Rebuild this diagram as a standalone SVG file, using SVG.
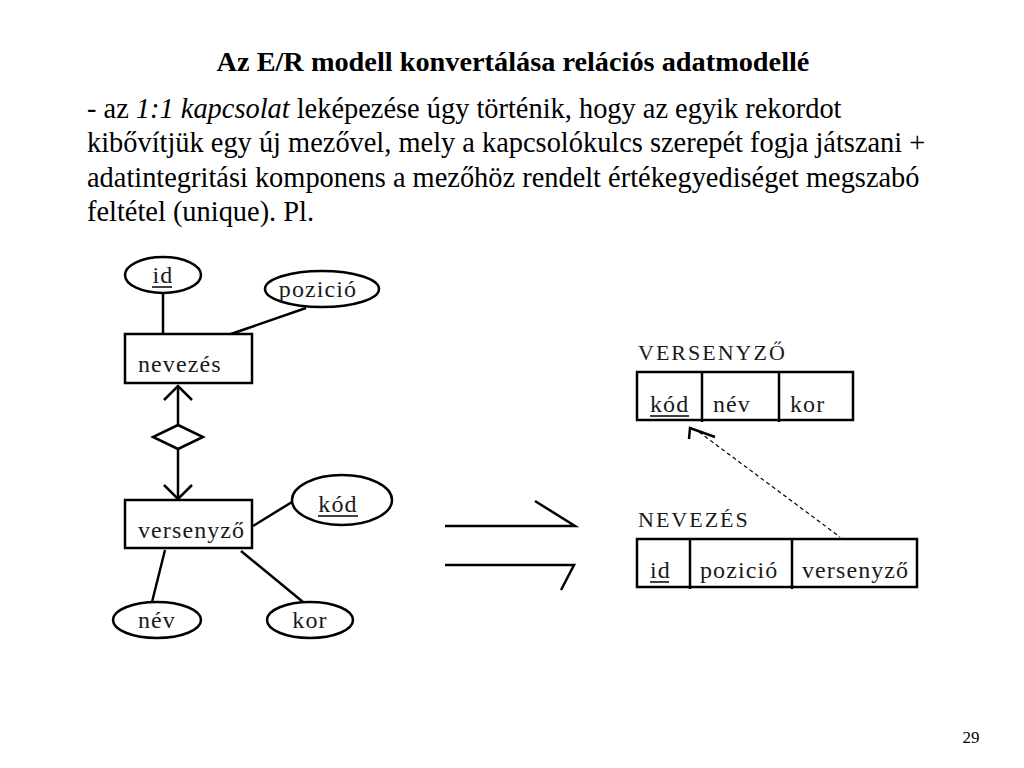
<svg xmlns="http://www.w3.org/2000/svg" width="1024" height="768" viewBox="0 0 1024 768">
<style>
.t{font-size:28.3px;font-weight:bold}
.p{font-size:28.4px}
.d{font-size:24px;letter-spacing:1.1px;fill:#1a1a1a}
.h{font-size:22px;letter-spacing:2px;fill:#1a1a1a}
.s{fill:#fff;stroke:#000;stroke-width:2.5}
.l{fill:none;stroke:#000;stroke-width:2.5}
.u{stroke:#000;stroke-width:1.5}
</style>
<rect width="1024" height="768" fill="#fff"/>
<g font-family="Liberation Serif" fill="#000">
<text class="t" x="513" y="71" text-anchor="middle">Az E/R modell konvertálása relációs adatmodellé</text>
<text class="p" x="87" y="118">- az <tspan font-style="italic">1:1 kapcsolat</tspan> leképezése úgy történik, hogy az egyik rekordot</text>
<text class="p" x="87" y="152">kibővítjük egy új mezővel, mely a kapcsolókulcs szerepét fogja játszani +</text>
<text class="p" x="87" y="187">adatintegritási komponens a mezőhöz rendelt értékegyediséget megszabó</text>
<text class="p" x="87" y="221">feltétel (unique). Pl.</text>
</g>

<g id="connectors">
<line class="l" x1="163" y1="293" x2="163" y2="334"/>
<line class="l" x1="306" y1="308" x2="228" y2="335"/>
<line class="l" x1="178" y1="386" x2="178" y2="425"/>
<polyline class="l" points="164,400 178,386 192,400"/>
<line class="l" x1="178" y1="449" x2="178" y2="499"/>
<polyline class="l" points="164,485 178,499 192,485"/>
<line class="l" x1="253" y1="526" x2="292" y2="502"/>
<line class="l" x1="165" y1="550" x2="152" y2="602"/>
<line class="l" x1="241" y1="551" x2="303" y2="602"/>
<line stroke="#000" stroke-width="1.2" stroke-dasharray="4,3" x1="699" y1="432" x2="840" y2="537"/>
<polyline class="l" points="689,439 690,428 715,437"/>
</g>

<g font-family="Liberation Serif">
<g id="id-attr"><ellipse class="s" cx="163" cy="275" rx="38" ry="18"/><text class="d" x="163" y="283" text-anchor="middle">id</text><line class="u" x1="152" y1="287" x2="172" y2="287"/></g>
<g id="pozicio-attr"><ellipse class="s" cx="322" cy="289" rx="57" ry="18"/><text class="d" x="318" y="297" text-anchor="middle">pozició</text></g>
<g id="nevezes"><rect class="s" x="125" y="334" width="127" height="49"/><text class="d" x="138" y="372">nevezés</text></g>
<g id="relationship"><polygon class="s" points="178,425 203,437 178,449 153,437"/></g>
<g id="versenyzo"><rect class="s" x="125" y="500" width="127" height="48"/><text class="d" x="138" y="538">versenyző</text></g>
<g id="kod-attr"><ellipse class="s" cx="342" cy="500" rx="50" ry="25"/><text class="d" x="338" y="512" text-anchor="middle">kód</text><line class="u" x1="318" y1="516" x2="358" y2="516"/></g>
<g id="nev-attr"><ellipse class="s" cx="157" cy="620" rx="44" ry="18"/><text class="d" x="157" y="628" text-anchor="middle">név</text></g>
<g id="kor-attr"><ellipse class="s" cx="310" cy="620" rx="43" ry="18"/><text class="d" x="310" y="628" text-anchor="middle">kor</text></g>

<g id="convert-arrows">
<polyline class="l" points="445,526 575,526 535,501"/>
<polyline class="l" points="445,565 574,565 561,590"/>
</g>

<g id="versenyzo-table">
<text class="h" x="638" y="360">VERSENYZŐ</text>
<rect class="l" x="637" y="372" width="216" height="48"/>
<line class="l" x1="702" y1="372" x2="702" y2="422"/>
<line class="l" x1="779" y1="372" x2="779" y2="422"/>
<text class="d" x="650" y="412">kód</text><line class="u" x1="650" y1="416" x2="689" y2="416"/>
<text class="d" x="713" y="412">név</text>
<text class="d" x="790" y="412">kor</text>
</g>
<g id="nevezes-table">
<text class="h" x="638" y="527">NEVEZÉS</text>
<rect class="l" x="637" y="539" width="280" height="48"/>
<line class="l" x1="690" y1="539" x2="690" y2="589"/>
<line class="l" x1="792" y1="539" x2="792" y2="589"/>
<text class="d" x="650" y="578">id</text><line class="u" x1="650" y1="582" x2="669" y2="582"/>
<text class="d" x="700" y="578">pozició</text>
<text class="d" x="802" y="578">versenyző</text>
</g>
<text x="971" y="743" font-size="17" text-anchor="middle">29</text>
</g>
</svg>
